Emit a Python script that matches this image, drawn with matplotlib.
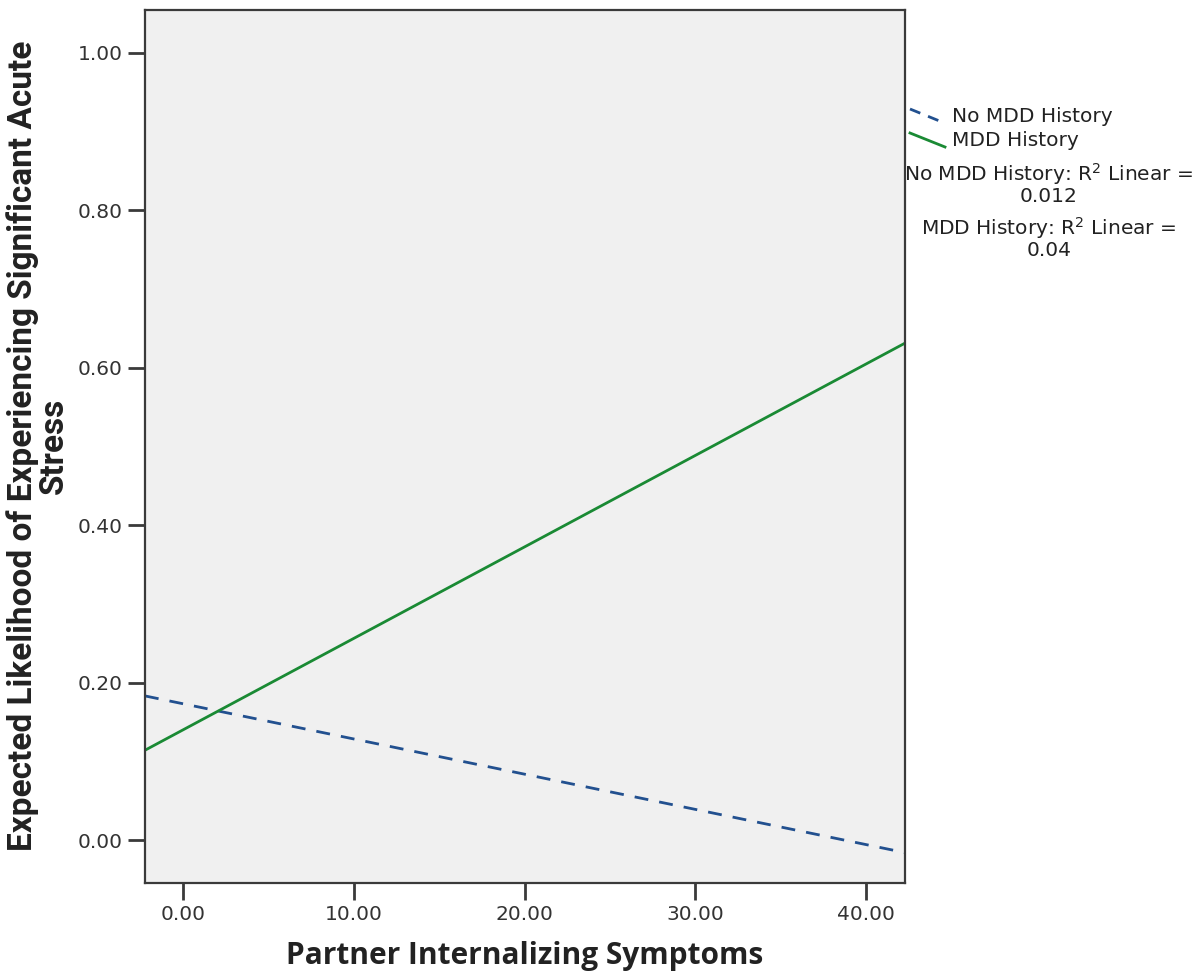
import matplotlib
matplotlib.use("Agg")
import matplotlib.pyplot as plt
from matplotlib.lines import Line2D

# ---- data (fit-line endpoints) ----
x_ends = [-2.21, 42.26]
no_mdd_y = [0.183, -0.016]
mdd_y = [0.114, 0.631]
series_names = ["No MDD History", "MDD History"]
r2_labels = ["No MDD History: R$^2$ Linear =\n0.012", "MDD History: R$^2$ Linear =\n0.04"]
x_ticks = [0, 10, 20, 30, 40]
y_ticks = [0.0, 0.2, 0.4, 0.6, 0.8, 1.0]

blue = "#22508f"
green = "#1a8a34"
spine_c = "#3a3a3a"
txt_font = ["DejaVu Sans"]

fig = plt.figure(figsize=(12.03, 9.73), dpi=100)
ax = fig.add_axes([0.1205, 0.0928, 0.6318, 0.8974])
ax.set_facecolor("#f0f0f0")

ax.plot(x_ends, no_mdd_y, color=blue, lw=2.0, dashes=(5, 4))
ax.plot(x_ends, mdd_y, color=green, lw=2.0)

ax.set_xlim(-2.21, 42.26)
ax.set_ylim(-0.0542, 1.0546)
ax.set_xticks(x_ticks)
ax.set_xticklabels([f"{v:.2f}" for v in x_ticks], family=txt_font)
ax.set_yticks(y_ticks)
ax.set_yticklabels([f"{v:.2f}" for v in y_ticks], family=txt_font)
ax.tick_params(axis="both", direction="out", length=12, width=2, color=spine_c,
               labelsize=14.5, labelcolor="#333333", pad=4)
for s in ax.spines.values():
    s.set_color(spine_c)
    s.set_linewidth(1.6)

ax.set_xlabel("Partner Internalizing Symptoms", fontsize=21.5, fontweight="bold",
              color="#222222", labelpad=12, family=["Open Sans", "DejaVu Sans"])
ax.set_ylabel("Expected Likelihood of Experiencing Significant Acute\nStress", fontsize=24,
              fontweight="bold", color="#222222", labelpad=6, linespacing=0.95,
              family=["Roboto", "DejaVu Sans"])

# legend outside the axes, SPSS style with slanted handles
W, H = 1203, 973
def fx(px):
    return px / W
def fy(py):
    return 1 - py / H

fig.add_artist(Line2D([fx(910), fx(942)], [fy(109), fy(122)], color=blue, lw=2, dashes=(4, 3)))
fig.add_artist(Line2D([fx(910), fx(945)], [fy(133), fy(147)], color=green, lw=2))
fig.text(fx(952), fy(117), series_names[0], fontsize=14.5, color="#222222", va="center",
         family=txt_font)
fig.text(fx(952), fy(141), series_names[1], fontsize=14.5, color="#222222", va="center",
         family=txt_font)
fig.text(fx(1049), fy(184), r2_labels[0], fontsize=14.5, color="#222222", va="center",
         ha="center", multialignment="center", linespacing=1.0, family=txt_font)
fig.text(fx(1049), fy(238), r2_labels[1], fontsize=14.5, color="#222222", va="center",
         ha="center", multialignment="center", linespacing=1.0, family=txt_font)

fig.savefig("out.png", dpi=100, facecolor="white")
